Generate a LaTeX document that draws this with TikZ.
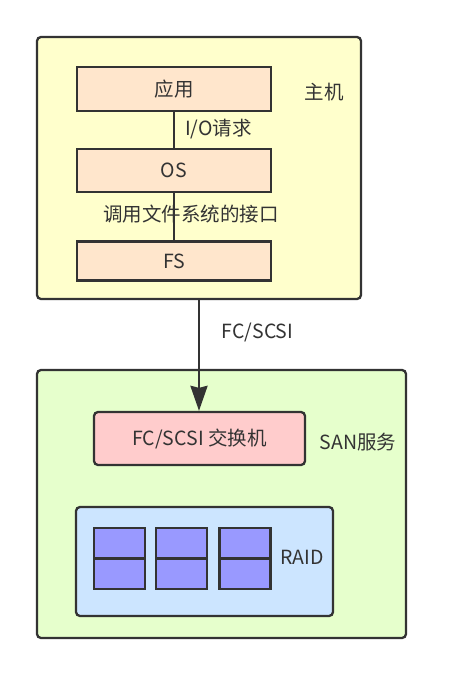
\documentclass[tikz,border=0pt]{standalone}
\usepackage{fontspec}
\newfontfamily\cjk{Noto Sans CJK SC}
\usetikzlibrary{arrows.meta, positioning}
\definecolor{edge}{HTML}{333333}
\definecolor{hostfill}{HTML}{FFFFCC}
\definecolor{layerfill}{HTML}{FFE6CC}
\definecolor{sanfill}{HTML}{E6FFCC}
\definecolor{switchfill}{HTML}{FFCCCC}
\definecolor{raidfill}{HTML}{CCE5FF}
\definecolor{diskfill}{HTML}{9999FF}
\tikzset{
  group/.style   = {draw=edge, line width=2.3pt, rounded corners=4pt, inner sep=0pt},
  layer/.style   = {draw=edge, line width=2.3pt, fill=layerfill, inner sep=0pt,
                    minimum width=194pt, text=edge,
                    font=\cjk\fontsize{19.5}{22}\selectfont},
  disk/.style    = {draw=edge, line width=2.3pt, fill=diskfill, inner sep=0pt,
                    minimum width=51pt, minimum height=30.5pt},
  caption/.style = {text=edge, inner sep=0pt,
                    font=\cjk\fontsize{19.5}{22}\selectfont},
  link/.style    = {-, draw=edge, line width=2.3pt},
  flow/.style    = {-{Stealth[length=25pt, width=17pt, inset=2pt]},
                    draw=edge, line width=2.6pt},
}

\begin{document}
\begin{tikzpicture}[x=1pt, y=-1pt]
  \fill[white] (0,0) rectangle (449,676);
  % host
  \node[group, fill=hostfill, minimum width=324pt, minimum height=262pt] (host) at (199,168) {};
  \node[layer, minimum height=44pt]                 (app) at (174,89) {应用};
  \node[layer, minimum height=43pt, below=36pt of app] (os) {OS};
  \node[layer, minimum height=39pt, below=47pt of os]  (fs) {FS};
  \node[caption] (hostname) at (324,92) {主机};
  \draw[link] (app) -- (os);
  \draw[link] (os) -- (fs);
  \node[caption, anchor=west] (io) at (185,129) {I/O请求};
  \node[caption] (fsapi) at (191,214) {调用文件系统的接口};
  % san
  \node[group, fill=sanfill, minimum width=369pt, minimum height=268pt] (san) at (221.5,504) {};
  \node[group, fill=switchfill, minimum width=211pt, minimum height=53pt, text=edge,
        font=\cjk\fontsize{19.5}{22}\selectfont] (switch) at (199.5,438.5) {FC/SCSI 交换机};
  \node[caption] (sanname) at (358,442) {SAN服务};
  \node[group, fill=raidfill, minimum width=257pt, minimum height=109pt] (raid) at (204.5,561.5) {};
  \foreach \i/\x in {1/119.5, 2/181.5, 3/245} {
    \node[disk] (top\i) at (\x,543.25) {};
    \node[disk] (bot\i) at (\x,573.75) {};
  }
  \node[caption] (raidname) at (302,557) {RAID};
  % link
  \draw[flow] (host.south) -- (host.south |- switch.north);
  \node[caption] (fc) at (257.5,333) {FC/SCSI};
\end{tikzpicture}
\end{document}
